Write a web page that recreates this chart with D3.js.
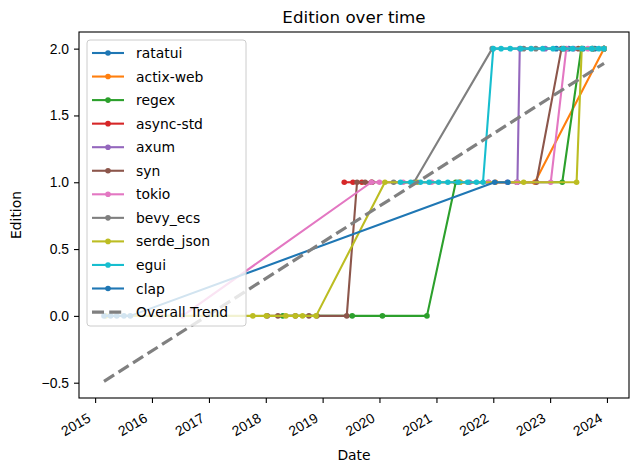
<!DOCTYPE html>
<html><head><meta charset="utf-8">
<script src="https://cdn.jsdelivr.net/npm/d3@7"></script>
<style>
html,body{margin:0;padding:0;background:#fff;}
svg{display:block;font-family:"DejaVu Sans",sans-serif;}
</style></head>
<body>
<svg id="chart" width="631" height="465"></svg>
<script>
// ---- data (date, edition index) ----
const ratatui   = [["2023-02-10",2],["2023-05-01",2],["2023-08-01",2],["2023-10-15",2],["2023-12-13",2]];
const actixWeb  = [["2021-06-01",1],["2022-01-15",1],["2022-09-25",1],["2023-12-13",2]];
const regex     = [["2018-04-20",0],["2019-07-10",0],["2020-01-20",0],["2020-11-01",0],["2021-05-05",1],["2022-06-01",1],["2023-03-20",1],["2023-07-20",2],["2023-10-01",2],["2023-12-13",2]];
const asyncStd  = [["2019-05-20",1],["2019-07-15",1],["2019-09-10",1],["2019-11-10",1]];
const axum      = [["2021-08-01",1],["2021-12-01",1],["2022-04-01",1],["2022-06-05",1],["2022-06-20",2],["2022-12-01",2],["2023-06-01",2],["2023-12-13",2]];
const syn       = [["2018-01-10",0],["2018-03-20",0],["2018-07-10",0],["2018-10-05",0],["2018-11-25",0],["2019-06-05",0],["2019-08-10",1],["2019-10-01",1],["2019-11-15",1],["2022-10-05",1],["2023-03-15",2],["2023-07-01",2],["2023-12-13",2]];
const tokio     = [["2016-03-01",0],["2016-07-15",0],["2019-11-10",1],["2020-01-01",1],["2020-06-01",1],["2020-12-01",1],["2021-06-01",1],["2021-12-01",1],["2022-06-01",1],["2023-01-05",1],["2023-04-15",2],["2023-09-01",2],["2023-12-13",2]];
const bevyEcs   = [["2020-04-01",1],["2020-08-10",1],["2021-12-25",2],["2022-07-15",2],["2022-10-01",2],["2023-04-01",2],["2023-10-01",2],["2023-12-13",2]];
const serdeJson = [["2015-03-10",0],["2017-10-10",0],["2018-01-05",0],["2018-05-10",0],["2018-07-10",0],["2018-08-25",0],["2018-11-20",0],["2020-02-05",1],["2020-09-01",1],["2021-06-01",1],["2022-07-15",1],["2023-06-20",1],["2023-07-23",2],["2023-12-13",2]];
const egui      = [["2020-05-15",1],["2020-07-20",1],["2020-09-20",1],["2020-11-15",1],["2021-01-15",1],["2021-03-15",1],["2021-05-20",1],["2021-07-20",1],["2021-09-15",1],["2021-10-27",1],["2022-01-01",2],["2022-02-20",2],["2022-04-20",2],["2022-06-25",2],["2022-09-01",2],["2022-11-15",2],["2023-01-20",2],["2023-03-25",2],["2023-05-25",2],["2023-07-25",2],["2023-09-25",2],["2023-11-10",2],["2023-12-13",2]];
const clap      = [["2015-02-27",0],["2015-04-10",0],["2015-05-20",0],["2015-07-05",0],["2015-08-15",0],["2022-01-10",1],["2022-04-05",1]];
const trend     = [["2015-02-27",-0.49],["2023-12-13",1.89]];

const seriesNames = ["ratatui","actix-web","regex","async-std","axum","syn","tokio","bevy_ecs","serde_json","egui","clap"];
const seriesData  = [ratatui, actixWeb, regex, asyncStd, axum, syn, tokio, bevyEcs, serdeJson, egui, clap];
const colors = ["#1f77b4","#ff7f0e","#2ca02c","#d62728","#9467bd","#8c564b","#e377c2","#7f7f7f","#bcbd22","#17becf","#1f77b4"];
const yTicks = [-0.5, 0, 0.5, 1, 1.5, 2];
const xTickYears = [2015,2016,2017,2018,2019,2020,2021,2022,2023,2024];

// ---- layout ----
const svg = d3.select("#chart");
const L = 79, R = 629, T = 32, B = 398;
const parse = d3.timeParse("%Y-%m-%d");
const allPts = seriesData.flat().concat(trend).map(d => ({t: parse(d[0]), v: d[1]}));
const tExt = d3.extent(allPts, d => +d.t);
const vExt = d3.extent(allPts, d => d.v);
const tPad = (tExt[1]-tExt[0])*0.05, vPad = (vExt[1]-vExt[0])*0.05;
const x = d3.scaleTime().domain([new Date(tExt[0]-tPad), new Date(tExt[1]+tPad)]).range([L, R]);
const y = d3.scaleLinear().domain([vExt[0]-vPad, vExt[1]+vPad]).range([B, T]);

const FS = 13.9;
const line = d3.line().x(d => x(parse(d[0]))).y(d => y(d[1]));

const plot = svg.append("g");
seriesData.forEach((data, i) => {
  const g = plot.append("g");
  g.append("path").attr("d", line(data)).attr("fill","none")
    .attr("stroke", colors[i]).attr("stroke-width", 2.1).attr("stroke-linejoin","round").attr("stroke-linecap","square");
  g.selectAll("circle").data(data).join("circle")
    .attr("cx", d => x(parse(d[0]))).attr("cy", d => y(d[1])).attr("r", 2.8)
    .attr("fill", colors[i]);
});
plot.append("path").attr("d", line(trend)).attr("fill","none")
  .attr("stroke","#808080").attr("stroke-width",3.2).attr("stroke-dasharray","12,5.2");

// ---- axes ----
const xAxis = d3.axisBottom(x).tickValues(xTickYears.map(yr => new Date(yr,0,1)))
  .tickFormat(d3.timeFormat("%Y")).tickSize(5).tickPadding(3);
const gx = svg.append("g").attr("transform",`translate(0,${B})`).call(xAxis);
gx.select(".domain").remove();
gx.selectAll(".tick line").attr("stroke","#000").attr("stroke-width",1.1);
gx.selectAll(".tick text").attr("font-size",FS).attr("fill","#000")
  .attr("text-anchor","end").attr("y",0).attr("dy",0)
  .attr("transform","translate(-4,23) rotate(-30)");

const yAxis = d3.axisLeft(y).tickValues(yTicks)
  .tickFormat(d => d.toFixed(1).replace("-","\u2212")).tickSize(5).tickPadding(5);
const gy = svg.append("g").attr("transform",`translate(${L},0)`).call(yAxis);
gy.select(".domain").remove();
gy.selectAll(".tick line").attr("stroke","#000").attr("stroke-width",1.1);
gy.selectAll(".tick text").attr("font-size",FS).attr("fill","#000");

svg.append("rect").attr("x",L).attr("y",T).attr("width",R-L).attr("height",B-T)
  .attr("fill","none").attr("stroke","#000").attr("stroke-width",1.1);

// titles
svg.append("text").attr("x",(L+R)/2).attr("y",23).attr("text-anchor","middle")
  .attr("font-size",16.7).text("Edition over time");
svg.append("text").attr("x",(L+R)/2).attr("y",460).attr("text-anchor","middle")
  .attr("font-size",FS).text("Date");
svg.append("text").attr("transform",`translate(21,${(T+B)/2}) rotate(-90)`).attr("text-anchor","middle")
  .attr("font-size",FS).text("Edition");

// ---- legend ----
const legendLabels = seriesNames.concat(["Overall Trend"]);
const lg = svg.append("g");
lg.append("rect").attr("x",87).attr("y",40).attr("width",159).attr("height",286)
  .attr("rx",3).attr("fill","#fff").attr("fill-opacity",0.8)
  .attr("stroke","#cccccc").attr("stroke-width",1);
legendLabels.forEach((name, i) => {
  const cy = 53 + i*23.55;
  if (i < seriesNames.length) {
    lg.append("line").attr("x1",92).attr("x2",124).attr("y1",cy).attr("y2",cy)
      .attr("stroke",colors[i]).attr("stroke-width",2.1);
    lg.append("circle").attr("cx",108).attr("cy",cy).attr("r",2.8).attr("fill",colors[i]);
  } else {
    lg.append("line").attr("x1",92).attr("x2",124).attr("y1",cy).attr("y2",cy)
      .attr("stroke","#808080").attr("stroke-width",3.2).attr("stroke-dasharray","12,5.2");
  }
  lg.append("text").attr("x",136).attr("y",cy).attr("dy","0.36em")
    .attr("font-size",FS).text(name);
});
</script>
</body></html>
